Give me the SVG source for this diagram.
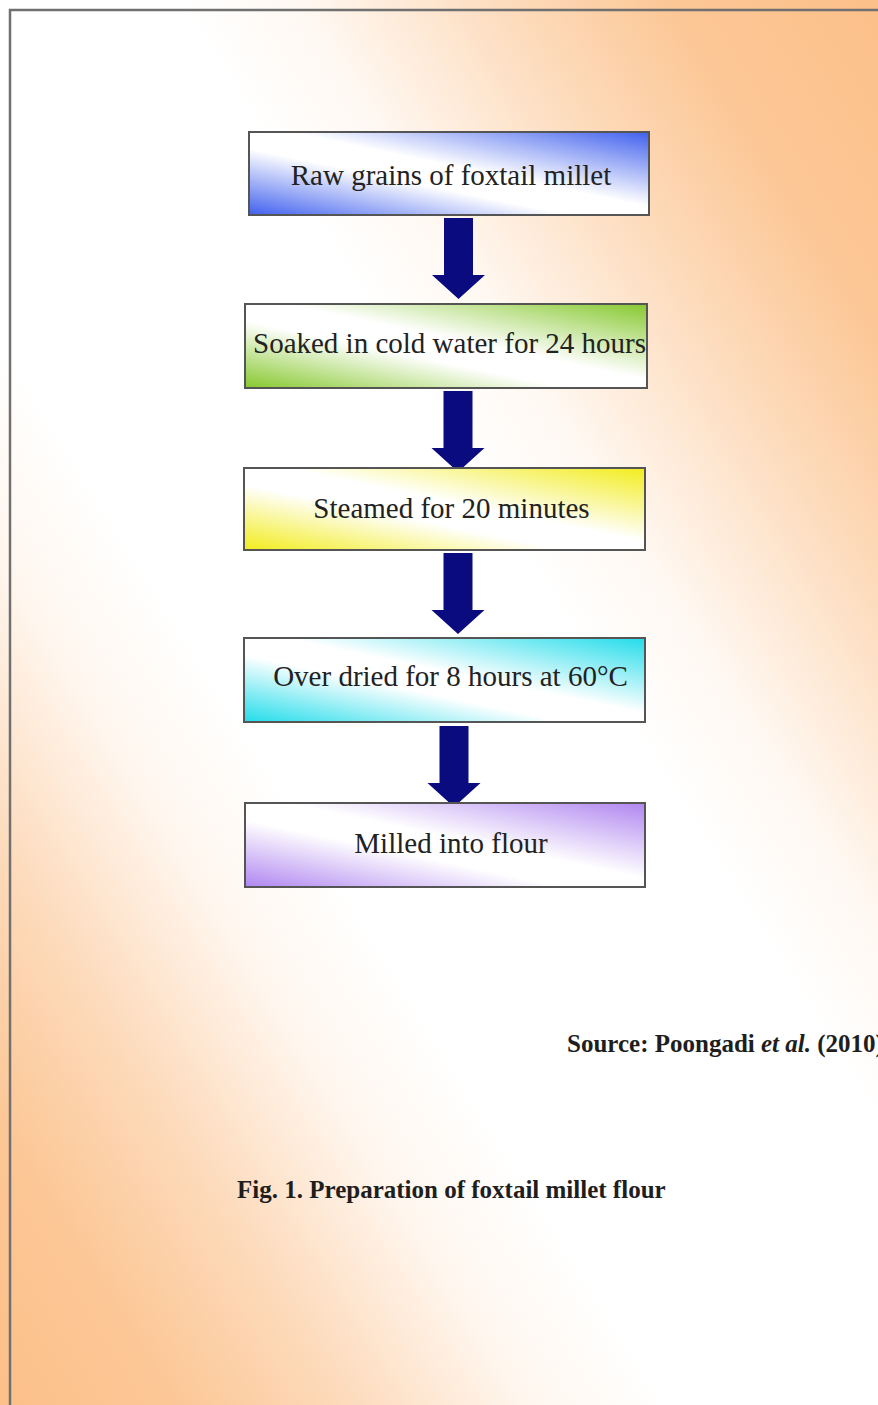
<svg xmlns="http://www.w3.org/2000/svg" width="878" height="1405" viewBox="0 0 878 1405">
<defs>
<linearGradient id="bg" x1="1" y1="0" x2="0" y2="1">
<stop offset="0" stop-color="#FCC08A"/>
<stop offset="0.12" stop-color="#FCC796"/>
<stop offset="0.22" stop-color="#FDDDBF"/>
<stop offset="0.33" stop-color="#FFF8F2"/>
<stop offset="0.4" stop-color="#FFFFFF"/>
<stop offset="0.62" stop-color="#FFFFFF"/>
<stop offset="0.7" stop-color="#FFF6EE"/>
<stop offset="0.8" stop-color="#FDDBBC"/>
<stop offset="0.9" stop-color="#FCC796"/>
<stop offset="1" stop-color="#FCC08A"/>
</linearGradient>
<linearGradient id="gBlue" x1="1" y1="0" x2="0" y2="1">
<stop offset="0" stop-color="#4060EE"/>
<stop offset="0.45" stop-color="#FFFFFF"/>
<stop offset="0.6" stop-color="#FFFFFF"/>
<stop offset="1" stop-color="#4060EE"/>
</linearGradient>
<linearGradient id="gGreen" x1="1" y1="0" x2="0" y2="1">
<stop offset="0" stop-color="#86C82E"/>
<stop offset="0.45" stop-color="#FFFFFF"/>
<stop offset="0.6" stop-color="#FFFFFF"/>
<stop offset="1" stop-color="#86C82E"/>
</linearGradient>
<linearGradient id="gYellow" x1="1" y1="0" x2="0" y2="1">
<stop offset="0" stop-color="#F2EC1C"/>
<stop offset="0.45" stop-color="#FFFFFF"/>
<stop offset="0.6" stop-color="#FFFFFF"/>
<stop offset="1" stop-color="#F2EC1C"/>
</linearGradient>
<linearGradient id="gCyan" x1="1" y1="0" x2="0" y2="1">
<stop offset="0" stop-color="#22DCEA"/>
<stop offset="0.45" stop-color="#FFFFFF"/>
<stop offset="0.6" stop-color="#FFFFFF"/>
<stop offset="1" stop-color="#22DCEA"/>
</linearGradient>
<linearGradient id="gPurple" x1="1" y1="0" x2="0" y2="1">
<stop offset="0" stop-color="#B086F0"/>
<stop offset="0.45" stop-color="#FFFFFF"/>
<stop offset="0.6" stop-color="#FFFFFF"/>
<stop offset="1" stop-color="#B086F0"/>
</linearGradient>
<path id="arrow" d="M -14.5 0 L 14.5 0 L 14.5 57 L 26.5 57 L 0 81 L -26.5 57 L -14.5 57 Z"/>
<clipPath id="clip2"><rect x="245" y="304" width="402" height="84"/></clipPath>
<style>
.box { stroke: #555555; stroke-width: 2; }
.lbl { font-family: "Liberation Serif", "Times New Roman", serif; font-size: 29px; fill: #222222; }
.cap { font-family: "Liberation Serif", "Times New Roman", serif; font-size: 25px; font-weight: bold; fill: #1E1E1E; }
.arr { fill: #0B0B80; }
</style>
</defs>
<rect x="0" y="0" width="878" height="1405" fill="url(#bg)"/>
<path d="M 10 1405 L 10 10 L 878 10" fill="none" stroke="#707070" stroke-width="2.5"/>

<g id="connectors">
<use href="#arrow" class="arr" transform="translate(458.5,218)"/>
<use href="#arrow" class="arr" transform="translate(458,391)"/>
<use href="#arrow" class="arr" transform="translate(458,553)"/>
<use href="#arrow" class="arr" transform="translate(454,726)"/>
</g>

<g id="node1">
<rect class="box" x="249" y="132" width="400" height="83" fill="url(#gBlue)"/>
<text class="lbl" x="451" y="185" text-anchor="middle">Raw grains of foxtail millet</text>
</g>
<g id="node2">
<rect class="box" x="245" y="304" width="402" height="84" fill="url(#gGreen)"/>
<text class="lbl" x="253" y="353" clip-path="url(#clip2)">Soaked in cold water for 24 hours</text>
</g>
<g id="node3">
<rect class="box" x="244" y="468" width="401" height="82" fill="url(#gYellow)"/>
<text class="lbl" x="451.5" y="518" text-anchor="middle">Steamed for 20 minutes</text>
</g>
<g id="node4">
<rect class="box" x="244" y="638" width="401" height="84" fill="url(#gCyan)"/>
<text class="lbl" x="450.5" y="686" text-anchor="middle">Over dried for 8 hours at 60°C</text>
</g>
<g id="node5">
<rect class="box" x="245" y="803" width="400" height="84" fill="url(#gPurple)"/>
<text class="lbl" x="451" y="853" text-anchor="middle">Milled into flour</text>
</g>

<g id="source">
<text class="cap" x="567" y="1052">Source: Poongadi <tspan font-style="italic">et al.</tspan> (2010)</text>
</g>
<g id="caption">
<text class="cap" x="237" y="1198">Fig. 1. Preparation of foxtail millet flour</text>
</g>
</svg>
